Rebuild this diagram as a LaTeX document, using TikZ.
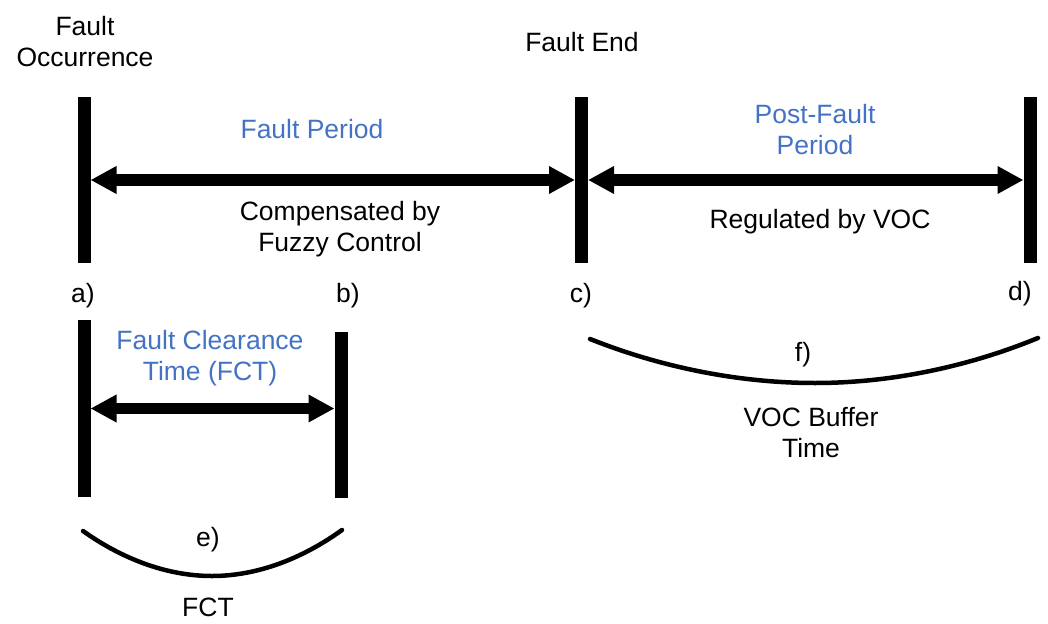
\documentclass[tikz,border=0pt]{standalone}
\usepackage{fontspec}
\setmainfont{Liberation Sans}
\usetikzlibrary{arrows.meta}
\definecolor{lblue}{HTML}{4472C4}
\begin{document}
\begin{tikzpicture}[x=1pt,y=-1pt,
  bar/.style={fill=black,draw=none,minimum width=13pt,inner sep=0pt,outer sep=0pt},
  dbl/.style={line width=11.5pt,{Triangle[length=26pt,width=26pt]}-{Triangle[length=26pt,width=26pt]}},
  txt/.style={align=center,inner sep=0pt,font=\fontsize{26.5}{31}\selectfont},
  btxt/.style={txt,text=lblue},
  curve/.style={line width=4.5pt,line cap=round}]
\useasboundingbox (0,0) rectangle (1048,623);
% bars
\node[bar,minimum height=166pt] (ba) at (84,180) {};
\node[bar,minimum height=166pt] (bc) at (581.5,180) {};
\node[bar,minimum height=166pt] (bd) at (1030,180) {};
\node[bar,minimum height=177pt] (el) at (84,408.5) {};
\node[bar,minimum height=166pt] (er) at (341,415) {};
% arrows
\draw[dbl] (ba.east) -- (bc.west);
\draw[dbl] (bc.east) -- (bd.west);
\draw[dbl] (el.east) -- (el.east -| er.west);
% texts
\node[txt] (t1) at (85,42) {Fault\\Occurrence};
\node[txt] (t2) at (582,42) {Fault End};
\node[btxt] (t3) at (312,129) {Fault Period};
\node[txt] (t4) at (340,229) {Compensated by\\Fuzzy Control};
\node[btxt] (t5) at (815,130) {Post-Fault\\Period};
\node[txt] (t6) at (820,222) {Regulated by VOC};
\node[txt] (la) at (83,296) {a)};
\node[txt] (lb) at (348,296) {b)};
\node[txt] (lc) at (581,296) {c)};
\node[txt] (ld) at (1020,294) {d)};
\node[btxt] (t7) at (210,358) {Fault Clearance\\Time (FCT)};
\node[txt] (le) at (208,540) {e)};
\node[txt] (t8) at (208,607) {FCT};
\node[txt] (lf) at (803,355) {f)};
\node[txt] (t9) at (811,433) {VOC Buffer\\Time};
% braces
\draw[curve] (83,531) parabola bend (212,576) (342,530);
\draw[curve] (590,339) parabola bend (815,383) (1038,338);
\end{tikzpicture}
\end{document}
